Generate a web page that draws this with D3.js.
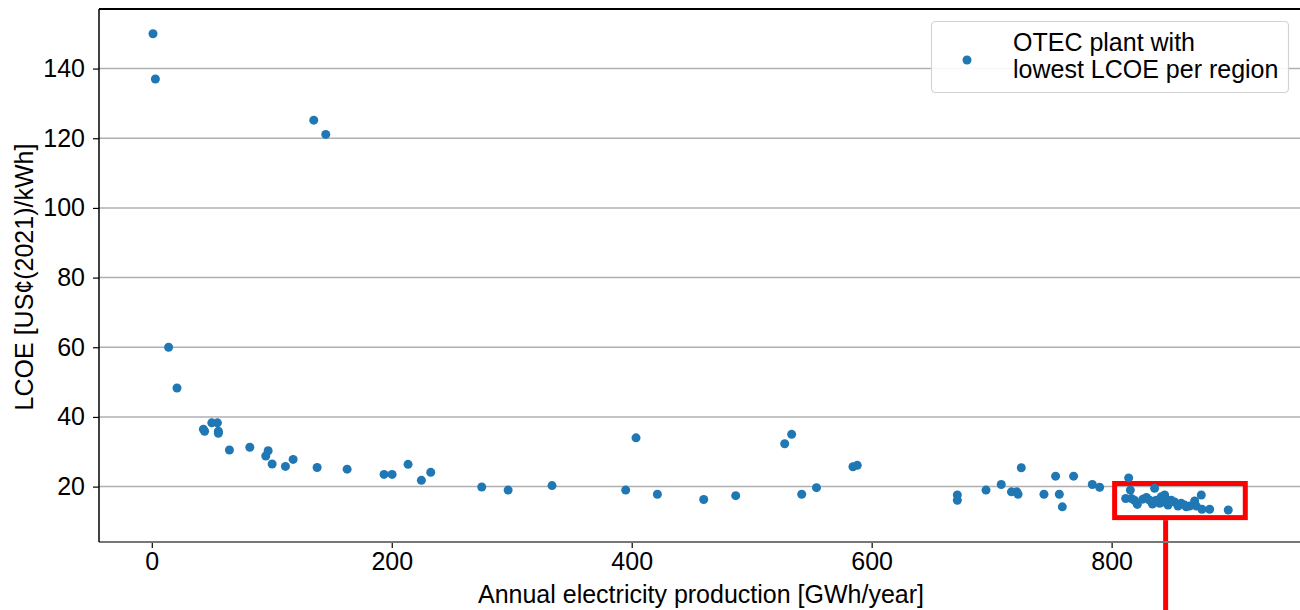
<!DOCTYPE html>
<html>
<head>
<meta charset="utf-8">
<script src="https://cdn.jsdelivr.net/npm/d3@7"></script>
<style>
  body { margin: 0; background: #fff; }
  svg { display: block; font-family: Arial, "Liberation Sans", sans-serif; }
</style>
</head>
<body>
<svg id="chart" width="1300" height="610"></svg>
<script>
// annual electricity production [GWh/year] of each region's cheapest OTEC plant
var production = [
  1, 3, 14, 21, 43, 44, 50, 54.7, 55.5, 55.5, 64.7, 81.7, 95, 97, 100.3, 111.4, 117.8,
  135, 137.8, 145, 162.8, 193.6, 200.3, 213.6, 224.7, 232.5, 275, 297, 333.6, 395,
  403.6, 421.4, 460, 486.7, 527.5, 533.3, 541.7, 554, 584.4, 588, 671.4, 671.4, 695.3,
  708, 716.5, 721, 722, 724.7, 743.6, 753.3, 756.4, 758.9, 768.3, 783.9, 790,
  814.2, 815.6, 811.7, 816.4, 821.4, 819, 829, 831.7, 835.8, 837.2, 841.4, 844.2,
  845.6, 840, 847, 849.7, 852.5, 855.3, 858, 862.2, 865, 869.2, 870.6, 874.7, 875.3,
  881.7, 897.2, 838.6, 842.8, 848.3, 860.8, 826, 834
];
// LCOE [US cents(2021)/kWh]
var lcoe = [
  150, 137, 60, 48.3, 36.5, 35.9, 38.3, 38.3, 35.9, 35.3, 30.5, 31.3, 28.8, 30.3, 26.5, 25.8, 27.8,
  125.2, 25.5, 121.1, 25.0, 23.5, 23.5, 26.4, 21.8, 24.1, 19.9, 19.0, 20.3, 19.0,
  34.0, 17.8, 16.3, 17.4, 32.3, 35.0, 17.8, 19.7, 25.7, 26.1, 17.6, 16.1, 19.0,
  20.6, 18.5, 18.5, 17.8, 25.4, 17.8, 23.0, 17.8, 14.2, 23.0, 20.6, 19.8,
  22.5, 19.0, 16.6, 16.6, 14.9, 16.1, 16.9, 16.1, 19.5, 16.1, 17.1, 17.6,
  16.3, 15.2, 14.7, 16.1, 15.6, 14.4, 15.2, 14.2, 14.4, 15.9, 14.4, 17.6, 13.5,
  13.5, 13.3, 15.6, 15.6, 15.4, 14.7, 16.4, 15.0
];
var xTicks = [0, 200, 400, 600, 800];
var yTicks = [20, 40, 60, 80, 100, 120, 140];
var xDomain = [-44, 957];
var yDomain = [4.1, 157.1];
// highlighted region (data units)
var boxX = [802.5, 911.4];
var boxY = [11.1, 20.9];
var pointerX = 845;
var legendLines = ["OTEC plant with", "lowest LCOE per region"];

var svg = d3.select("#chart"),
    width = +svg.attr("width"),
    height = +svg.attr("height");

var plot = {left: 99, top: 9, right: 1300, bottom: 542};
var blue = "#1f77b4";
var fontSize = 25;

var x = d3.scaleLinear().domain(xDomain).range([plot.left, plot.right]);
var y = d3.scaleLinear().domain(yDomain).range([plot.bottom, plot.top]);

// horizontal grid
svg.append("g")
    .selectAll("line")
    .data(yTicks)
    .enter().append("line")
    .attr("x1", plot.left).attr("x2", plot.right)
    .attr("y1", function(d) { return y(d); })
    .attr("y2", function(d) { return y(d); })
    .attr("stroke", "#b0b0b0")
    .attr("stroke-width", 1.5);

// red highlight box + pointer line
svg.append("rect")
    .attr("x", x(boxX[0])).attr("y", y(boxY[1]))
    .attr("width", x(boxX[1]) - x(boxX[0]))
    .attr("height", y(boxY[0]) - y(boxY[1]))
    .attr("fill", "none")
    .attr("stroke", "#ff0000")
    .attr("stroke-width", 5);
svg.append("line")
    .attr("x1", x(pointerX)).attr("x2", x(pointerX))
    .attr("y1", y(boxY[0]) + 2.5).attr("y2", height + 5)
    .attr("stroke", "#ff0000")
    .attr("stroke-width", 5);

// points
svg.append("g")
    .selectAll("circle")
    .data(production.map(function(p, i) { return [p, lcoe[i]]; }))
    .enter().append("circle")
    .attr("cx", function(d) { return x(d[0]); })
    .attr("cy", function(d) { return y(d[1]); })
    .attr("r", 4.5)
    .attr("fill", blue);

// axes
var xAxis = svg.append("g")
    .attr("transform", "translate(0," + plot.bottom + ")")
    .call(d3.axisBottom(x).tickValues(xTicks).tickSize(6).tickPadding(4));
var yAxis = svg.append("g")
    .attr("transform", "translate(" + plot.left + ",0)")
    .call(d3.axisLeft(y).tickValues(yTicks).tickSize(6).tickPadding(8));

xAxis.select(".domain").remove();
yAxis.select(".domain").remove();
[xAxis, yAxis].forEach(function(a) {
    a.selectAll("text").attr("font-size", fontSize).attr("fill", "#000")
        .attr("font-family", "Arial, 'Liberation Sans', sans-serif");
    a.selectAll(".tick line").attr("stroke", "#000").attr("stroke-width", 1.2);
});

// spines
svg.append("line")
    .attr("x1", plot.left).attr("x2", plot.right)
    .attr("y1", plot.bottom).attr("y2", plot.bottom)
    .attr("stroke", "#777").attr("stroke-width", 2);
svg.append("line")
    .attr("x1", plot.left).attr("x2", plot.right)
    .attr("y1", plot.top).attr("y2", plot.top)
    .attr("stroke", "#000").attr("stroke-width", 2);
svg.append("line")
    .attr("x1", plot.left).attr("x2", plot.left)
    .attr("y1", plot.top).attr("y2", plot.bottom)
    .attr("stroke", "#000").attr("stroke-width", 1.5);

// axis labels
svg.append("text")
    .attr("x", 701)
    .attr("y", 603)
    .attr("text-anchor", "middle")
    .attr("font-size", fontSize)
    .text("Annual electricity production [GWh/year]");
svg.append("text")
    .attr("transform", "translate(33,277) rotate(-90)")
    .attr("text-anchor", "middle")
    .attr("font-size", fontSize)
    .text("LCOE [US¢(2021)/kWh]");

// legend
var legend = svg.append("g");
legend.append("rect")
    .attr("x", 931.5).attr("y", 21.5)
    .attr("width", 357).attr("height", 71)
    .attr("rx", 4)
    .attr("fill", "#fff").attr("fill-opacity", 0.9)
    .attr("stroke", "#d3d3d3").attr("stroke-width", 1.2);
legend.append("circle")
    .attr("cx", 967).attr("cy", 60)
    .attr("r", 4.5)
    .attr("fill", blue);
legend.selectAll("text.lg")
    .data(legendLines)
    .enter().append("text")
    .attr("class", "lg")
    .attr("x", 1013)
    .attr("y", function(d, i) { return 51 + i * 27.3; })
    .attr("font-size", fontSize)
    .text(function(d) { return d; });
</script>
</body>
</html>
